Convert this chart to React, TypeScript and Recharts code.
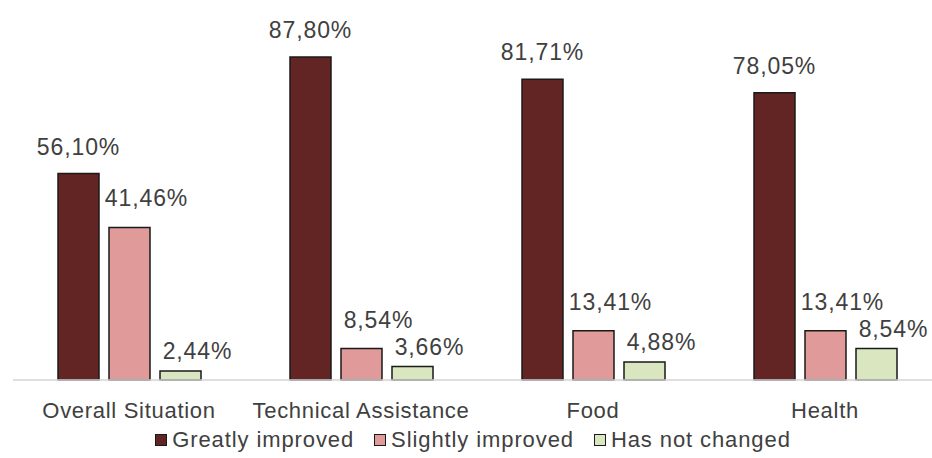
import React from "react";
import { Bar, BarChart, LabelList, Legend, XAxis, YAxis } from "recharts";

const categories = ["Overall Situation", "Technical Assistance", "Food", "Health"];
const greatlyImproved = [56.1, 87.8, 81.71, 78.05];
const slightlyImproved = [41.46, 8.54, 13.41, 13.41];
const notChanged = [2.44, 3.66, 4.88, 8.54];

// dx/dy nudge each series' value labels so neighbouring labels don't collide
const SERIES = [
  { key: "greatly", name: "Greatly improved", fill: "#632523", dx: 0, dy: -19 },
  { key: "slightly", name: "Slightly improved", fill: "#e09a9a", dx: 17, dy: -21 },
  { key: "unchanged", name: "Has not changed", fill: "#d9e6bf", dx: 17, dy: -12 },
];

const data = categories.map((name, i) => ({
  name,
  greatly: greatlyImproved[i],
  slightly: slightlyImproved[i],
  unchanged: notChanged[i],
}));

const FONT = "'Liberation Sans', Arial, sans-serif";
const TEXT = "#404040";

const fmt = (v: number) => v.toFixed(2).replace(".", ",") + "%";

function ValueLabel(dx: number, dy: number) {
  return (props: any) => {
    const { x, y, width, value } = props;
    return (
      <text
        x={x + width / 2 + dx}
        y={y + dy}
        textAnchor="middle"
        fontSize={23}
        letterSpacing={0.9}
        fontFamily={FONT}
        fill={TEXT}
      >
        {fmt(value)}
      </text>
    );
  };
}

function CategoryTick(props: any) {
  const { x, payload } = props;
  return (
    <text
      x={x}
      y={418}
      textAnchor="middle"
      fontSize={22}
      letterSpacing={0.7}
      fontFamily={FONT}
      fill={TEXT}
    >
      {payload.value}
    </text>
  );
}

function LegendRow() {
  return (
    <div
      style={{
        display: "flex",
        justifyContent: "center",
        alignItems: "center",
        height: 36,
        fontFamily: FONT,
        fontSize: 22,
        letterSpacing: 0.9,
        color: TEXT,
        paddingRight: 8,
      }}
    >
      {SERIES.map((s, i) => (
        <div
          key={s.key}
          style={{ display: "flex", alignItems: "center", marginRight: i < SERIES.length - 1 ? 20 : 0 }}
        >
          <span
            style={{
              width: 10,
              height: 10,
              background: s.fill,
              border: "1.5px solid #1a1a1a",
              marginRight: 5,
              display: "inline-block",
            }}
          />
          <span>{s.name}</span>
        </div>
      ))}
    </div>
  );
}

export default function App() {
  return (
    <div style={{ position: "absolute", left: 0, top: 0, width: 932, height: 458, overflow: "hidden", background: "#fff" }}>
      <BarChart
        width={944}
        height={458}
        data={data}
        margin={{ top: 12, right: 3, left: 13, bottom: 0 }}
        barSize={41}
        barGap={10}
      >
        <XAxis
          dataKey="name"
          height={42}
          tickLine={false}
          axisLine={{ stroke: "#d4d4d4", strokeWidth: 1.5 }}
          tick={<CategoryTick />}
          interval={0}
        />
        <YAxis hide domain={[0, 100]} />
        <Legend verticalAlign="bottom" content={<LegendRow />} />
        {SERIES.map((s) => (
          <Bar
            key={s.key}
            dataKey={s.key}
            name={s.name}
            fill={s.fill}
            stroke="#1a1a1a"
            strokeWidth={1.5}
            isAnimationActive={false}
          >
            <LabelList dataKey={s.key} content={ValueLabel(s.dx, s.dy)} />
          </Bar>
        ))}
      </BarChart>
    </div>
  );
}
